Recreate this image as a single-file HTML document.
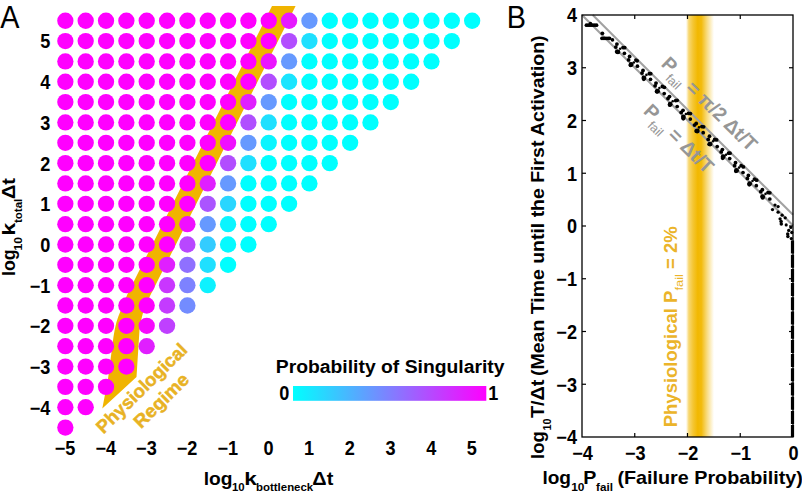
<!DOCTYPE html>
<html><head><meta charset="utf-8"><style>
html,body{margin:0;padding:0;background:#fff;}
svg{display:block;}
text{font-family:"Liberation Sans",sans-serif;}
</style></head><body>
<svg width="802" height="492" viewBox="0 0 802 492">
<defs>
<linearGradient id="cb" x1="0" x2="1" y1="0" y2="0"><stop offset="0" stop-color="#00ffff"/><stop offset="1" stop-color="#ff00ff"/></linearGradient>
<linearGradient id="ob" x1="686" x2="714" y1="0" y2="0" gradientUnits="userSpaceOnUse">
<stop offset="0" stop-color="#f2b800" stop-opacity="0"/>
<stop offset="0.1" stop-color="#f2b800" stop-opacity="0.55"/>
<stop offset="0.25" stop-color="#f2b800" stop-opacity="0.8"/>
<stop offset="0.42" stop-color="#f2b800" stop-opacity="1"/>
<stop offset="0.55" stop-color="#f2b800" stop-opacity="0.95"/>
<stop offset="0.75" stop-color="#f2b800" stop-opacity="0.5"/>
<stop offset="1" stop-color="#f2b800" stop-opacity="0"/>
</linearGradient>
</defs>

<g transform="translate(0.2,27.6) scale(0.93,1)"><text x="0" y="0" font-size="31" fill="#000">A</text></g>
<path d="M272,6 L295.6,6 L150,296 Q141.5,312 139.5,330 L136.5,377 L102.3,408.5 L108,379 L112.3,346 Q114.5,326 118.5,316 L127.5,294 Z" fill="#f0b400"/>
<circle cx="65.35" cy="20.75" r="8.15" fill="rgb(255,0,255)"/>
<circle cx="85.69" cy="20.75" r="8.15" fill="rgb(255,0,255)"/>
<circle cx="106.03" cy="20.75" r="8.15" fill="rgb(255,0,255)"/>
<circle cx="126.37" cy="20.75" r="8.15" fill="rgb(255,0,255)"/>
<circle cx="146.71" cy="20.75" r="8.15" fill="rgb(255,0,255)"/>
<circle cx="167.05" cy="20.75" r="8.15" fill="rgb(255,0,255)"/>
<circle cx="187.39" cy="20.75" r="8.15" fill="rgb(255,0,255)"/>
<circle cx="207.73" cy="20.75" r="8.15" fill="rgb(255,0,255)"/>
<circle cx="228.07" cy="20.75" r="8.15" fill="rgb(255,0,255)"/>
<circle cx="248.41" cy="20.75" r="8.15" fill="rgb(255,0,255)"/>
<circle cx="268.75" cy="20.75" r="8.15" fill="rgb(255,0,255)"/>
<circle cx="289.09" cy="20.75" r="8.15" fill="rgb(230,25,255)"/>
<circle cx="309.43" cy="20.75" r="8.15" fill="rgb(102,153,255)"/>
<circle cx="329.77" cy="20.75" r="8.15" fill="rgb(0,255,255)"/>
<circle cx="350.11" cy="20.75" r="8.15" fill="rgb(0,255,255)"/>
<circle cx="370.45" cy="20.75" r="8.15" fill="rgb(0,255,255)"/>
<circle cx="390.79" cy="20.75" r="8.15" fill="rgb(0,255,255)"/>
<circle cx="411.13" cy="20.75" r="8.15" fill="rgb(0,255,255)"/>
<circle cx="431.47" cy="20.75" r="8.15" fill="rgb(0,255,255)"/>
<circle cx="451.81" cy="20.75" r="8.15" fill="rgb(0,255,255)"/>
<circle cx="472.15" cy="20.75" r="8.15" fill="rgb(0,255,255)"/>
<circle cx="65.35" cy="41.09" r="8.15" fill="rgb(255,0,255)"/>
<circle cx="85.69" cy="41.09" r="8.15" fill="rgb(255,0,255)"/>
<circle cx="106.03" cy="41.09" r="8.15" fill="rgb(255,0,255)"/>
<circle cx="126.37" cy="41.09" r="8.15" fill="rgb(255,0,255)"/>
<circle cx="146.71" cy="41.09" r="8.15" fill="rgb(255,0,255)"/>
<circle cx="167.05" cy="41.09" r="8.15" fill="rgb(255,0,255)"/>
<circle cx="187.39" cy="41.09" r="8.15" fill="rgb(255,0,255)"/>
<circle cx="207.73" cy="41.09" r="8.15" fill="rgb(255,0,255)"/>
<circle cx="228.07" cy="41.09" r="8.15" fill="rgb(255,0,255)"/>
<circle cx="248.41" cy="41.09" r="8.15" fill="rgb(255,0,255)"/>
<circle cx="268.75" cy="41.09" r="8.15" fill="rgb(255,0,255)"/>
<circle cx="289.09" cy="41.09" r="8.15" fill="rgb(178,77,255)"/>
<circle cx="309.43" cy="41.09" r="8.15" fill="rgb(31,224,255)"/>
<circle cx="329.77" cy="41.09" r="8.15" fill="rgb(0,255,255)"/>
<circle cx="350.11" cy="41.09" r="8.15" fill="rgb(0,255,255)"/>
<circle cx="370.45" cy="41.09" r="8.15" fill="rgb(0,255,255)"/>
<circle cx="390.79" cy="41.09" r="8.15" fill="rgb(0,255,255)"/>
<circle cx="411.13" cy="41.09" r="8.15" fill="rgb(0,255,255)"/>
<circle cx="431.47" cy="41.09" r="8.15" fill="rgb(0,255,255)"/>
<circle cx="451.81" cy="41.09" r="8.15" fill="rgb(0,255,255)"/>
<circle cx="65.35" cy="61.43" r="8.15" fill="rgb(255,0,255)"/>
<circle cx="85.69" cy="61.43" r="8.15" fill="rgb(255,0,255)"/>
<circle cx="106.03" cy="61.43" r="8.15" fill="rgb(255,0,255)"/>
<circle cx="126.37" cy="61.43" r="8.15" fill="rgb(255,0,255)"/>
<circle cx="146.71" cy="61.43" r="8.15" fill="rgb(255,0,255)"/>
<circle cx="167.05" cy="61.43" r="8.15" fill="rgb(255,0,255)"/>
<circle cx="187.39" cy="61.43" r="8.15" fill="rgb(255,0,255)"/>
<circle cx="207.73" cy="61.43" r="8.15" fill="rgb(255,0,255)"/>
<circle cx="228.07" cy="61.43" r="8.15" fill="rgb(255,0,255)"/>
<circle cx="248.41" cy="61.43" r="8.15" fill="rgb(255,0,255)"/>
<circle cx="268.75" cy="61.43" r="8.15" fill="rgb(235,20,255)"/>
<circle cx="289.09" cy="61.43" r="8.15" fill="rgb(102,153,255)"/>
<circle cx="309.43" cy="61.43" r="8.15" fill="rgb(0,255,255)"/>
<circle cx="329.77" cy="61.43" r="8.15" fill="rgb(0,255,255)"/>
<circle cx="350.11" cy="61.43" r="8.15" fill="rgb(0,255,255)"/>
<circle cx="370.45" cy="61.43" r="8.15" fill="rgb(0,255,255)"/>
<circle cx="390.79" cy="61.43" r="8.15" fill="rgb(0,255,255)"/>
<circle cx="411.13" cy="61.43" r="8.15" fill="rgb(0,255,255)"/>
<circle cx="431.47" cy="61.43" r="8.15" fill="rgb(0,255,255)"/>
<circle cx="65.35" cy="81.77" r="8.15" fill="rgb(255,0,255)"/>
<circle cx="85.69" cy="81.77" r="8.15" fill="rgb(255,0,255)"/>
<circle cx="106.03" cy="81.77" r="8.15" fill="rgb(255,0,255)"/>
<circle cx="126.37" cy="81.77" r="8.15" fill="rgb(255,0,255)"/>
<circle cx="146.71" cy="81.77" r="8.15" fill="rgb(255,0,255)"/>
<circle cx="167.05" cy="81.77" r="8.15" fill="rgb(255,0,255)"/>
<circle cx="187.39" cy="81.77" r="8.15" fill="rgb(255,0,255)"/>
<circle cx="207.73" cy="81.77" r="8.15" fill="rgb(255,0,255)"/>
<circle cx="228.07" cy="81.77" r="8.15" fill="rgb(255,0,255)"/>
<circle cx="248.41" cy="81.77" r="8.15" fill="rgb(255,0,255)"/>
<circle cx="268.75" cy="81.77" r="8.15" fill="rgb(178,77,255)"/>
<circle cx="289.09" cy="81.77" r="8.15" fill="rgb(26,229,255)"/>
<circle cx="309.43" cy="81.77" r="8.15" fill="rgb(0,255,255)"/>
<circle cx="329.77" cy="81.77" r="8.15" fill="rgb(0,255,255)"/>
<circle cx="350.11" cy="81.77" r="8.15" fill="rgb(0,255,255)"/>
<circle cx="370.45" cy="81.77" r="8.15" fill="rgb(0,255,255)"/>
<circle cx="390.79" cy="81.77" r="8.15" fill="rgb(0,255,255)"/>
<circle cx="411.13" cy="81.77" r="8.15" fill="rgb(0,255,255)"/>
<circle cx="65.35" cy="102.11" r="8.15" fill="rgb(255,0,255)"/>
<circle cx="85.69" cy="102.11" r="8.15" fill="rgb(255,0,255)"/>
<circle cx="106.03" cy="102.11" r="8.15" fill="rgb(255,0,255)"/>
<circle cx="126.37" cy="102.11" r="8.15" fill="rgb(255,0,255)"/>
<circle cx="146.71" cy="102.11" r="8.15" fill="rgb(255,0,255)"/>
<circle cx="167.05" cy="102.11" r="8.15" fill="rgb(255,0,255)"/>
<circle cx="187.39" cy="102.11" r="8.15" fill="rgb(255,0,255)"/>
<circle cx="207.73" cy="102.11" r="8.15" fill="rgb(255,0,255)"/>
<circle cx="228.07" cy="102.11" r="8.15" fill="rgb(255,0,255)"/>
<circle cx="248.41" cy="102.11" r="8.15" fill="rgb(224,31,255)"/>
<circle cx="268.75" cy="102.11" r="8.15" fill="rgb(102,153,255)"/>
<circle cx="289.09" cy="102.11" r="8.15" fill="rgb(0,255,255)"/>
<circle cx="309.43" cy="102.11" r="8.15" fill="rgb(0,255,255)"/>
<circle cx="329.77" cy="102.11" r="8.15" fill="rgb(0,255,255)"/>
<circle cx="350.11" cy="102.11" r="8.15" fill="rgb(0,255,255)"/>
<circle cx="370.45" cy="102.11" r="8.15" fill="rgb(0,255,255)"/>
<circle cx="390.79" cy="102.11" r="8.15" fill="rgb(0,255,255)"/>
<circle cx="65.35" cy="122.45" r="8.15" fill="rgb(255,0,255)"/>
<circle cx="85.69" cy="122.45" r="8.15" fill="rgb(255,0,255)"/>
<circle cx="106.03" cy="122.45" r="8.15" fill="rgb(255,0,255)"/>
<circle cx="126.37" cy="122.45" r="8.15" fill="rgb(255,0,255)"/>
<circle cx="146.71" cy="122.45" r="8.15" fill="rgb(255,0,255)"/>
<circle cx="167.05" cy="122.45" r="8.15" fill="rgb(255,0,255)"/>
<circle cx="187.39" cy="122.45" r="8.15" fill="rgb(255,0,255)"/>
<circle cx="207.73" cy="122.45" r="8.15" fill="rgb(255,0,255)"/>
<circle cx="228.07" cy="122.45" r="8.15" fill="rgb(255,0,255)"/>
<circle cx="248.41" cy="122.45" r="8.15" fill="rgb(176,79,255)"/>
<circle cx="268.75" cy="122.45" r="8.15" fill="rgb(31,224,255)"/>
<circle cx="289.09" cy="122.45" r="8.15" fill="rgb(0,255,255)"/>
<circle cx="309.43" cy="122.45" r="8.15" fill="rgb(0,255,255)"/>
<circle cx="329.77" cy="122.45" r="8.15" fill="rgb(0,255,255)"/>
<circle cx="350.11" cy="122.45" r="8.15" fill="rgb(0,255,255)"/>
<circle cx="370.45" cy="122.45" r="8.15" fill="rgb(0,255,255)"/>
<circle cx="65.35" cy="142.79" r="8.15" fill="rgb(255,0,255)"/>
<circle cx="85.69" cy="142.79" r="8.15" fill="rgb(255,0,255)"/>
<circle cx="106.03" cy="142.79" r="8.15" fill="rgb(255,0,255)"/>
<circle cx="126.37" cy="142.79" r="8.15" fill="rgb(255,0,255)"/>
<circle cx="146.71" cy="142.79" r="8.15" fill="rgb(255,0,255)"/>
<circle cx="167.05" cy="142.79" r="8.15" fill="rgb(255,0,255)"/>
<circle cx="187.39" cy="142.79" r="8.15" fill="rgb(255,0,255)"/>
<circle cx="207.73" cy="142.79" r="8.15" fill="rgb(255,0,255)"/>
<circle cx="228.07" cy="142.79" r="8.15" fill="rgb(240,15,255)"/>
<circle cx="248.41" cy="142.79" r="8.15" fill="rgb(102,153,255)"/>
<circle cx="268.75" cy="142.79" r="8.15" fill="rgb(10,245,255)"/>
<circle cx="289.09" cy="142.79" r="8.15" fill="rgb(0,255,255)"/>
<circle cx="309.43" cy="142.79" r="8.15" fill="rgb(0,255,255)"/>
<circle cx="329.77" cy="142.79" r="8.15" fill="rgb(0,255,255)"/>
<circle cx="350.11" cy="142.79" r="8.15" fill="rgb(0,255,255)"/>
<circle cx="65.35" cy="163.13" r="8.15" fill="rgb(255,0,255)"/>
<circle cx="85.69" cy="163.13" r="8.15" fill="rgb(255,0,255)"/>
<circle cx="106.03" cy="163.13" r="8.15" fill="rgb(255,0,255)"/>
<circle cx="126.37" cy="163.13" r="8.15" fill="rgb(255,0,255)"/>
<circle cx="146.71" cy="163.13" r="8.15" fill="rgb(255,0,255)"/>
<circle cx="167.05" cy="163.13" r="8.15" fill="rgb(255,0,255)"/>
<circle cx="187.39" cy="163.13" r="8.15" fill="rgb(255,0,255)"/>
<circle cx="207.73" cy="163.13" r="8.15" fill="rgb(255,0,255)"/>
<circle cx="228.07" cy="163.13" r="8.15" fill="rgb(178,77,255)"/>
<circle cx="248.41" cy="163.13" r="8.15" fill="rgb(31,224,255)"/>
<circle cx="268.75" cy="163.13" r="8.15" fill="rgb(0,255,255)"/>
<circle cx="289.09" cy="163.13" r="8.15" fill="rgb(0,255,255)"/>
<circle cx="309.43" cy="163.13" r="8.15" fill="rgb(0,255,255)"/>
<circle cx="329.77" cy="163.13" r="8.15" fill="rgb(0,255,255)"/>
<circle cx="65.35" cy="183.47" r="8.15" fill="rgb(255,0,255)"/>
<circle cx="85.69" cy="183.47" r="8.15" fill="rgb(255,0,255)"/>
<circle cx="106.03" cy="183.47" r="8.15" fill="rgb(255,0,255)"/>
<circle cx="126.37" cy="183.47" r="8.15" fill="rgb(255,0,255)"/>
<circle cx="146.71" cy="183.47" r="8.15" fill="rgb(255,0,255)"/>
<circle cx="167.05" cy="183.47" r="8.15" fill="rgb(255,0,255)"/>
<circle cx="187.39" cy="183.47" r="8.15" fill="rgb(255,0,255)"/>
<circle cx="207.73" cy="183.47" r="8.15" fill="rgb(224,31,255)"/>
<circle cx="228.07" cy="183.47" r="8.15" fill="rgb(102,153,255)"/>
<circle cx="248.41" cy="183.47" r="8.15" fill="rgb(0,255,255)"/>
<circle cx="268.75" cy="183.47" r="8.15" fill="rgb(0,255,255)"/>
<circle cx="289.09" cy="183.47" r="8.15" fill="rgb(0,255,255)"/>
<circle cx="309.43" cy="183.47" r="8.15" fill="rgb(0,255,255)"/>
<circle cx="65.35" cy="203.81" r="8.15" fill="rgb(255,0,255)"/>
<circle cx="85.69" cy="203.81" r="8.15" fill="rgb(255,0,255)"/>
<circle cx="106.03" cy="203.81" r="8.15" fill="rgb(255,0,255)"/>
<circle cx="126.37" cy="203.81" r="8.15" fill="rgb(255,0,255)"/>
<circle cx="146.71" cy="203.81" r="8.15" fill="rgb(255,0,255)"/>
<circle cx="167.05" cy="203.81" r="8.15" fill="rgb(255,0,255)"/>
<circle cx="187.39" cy="203.81" r="8.15" fill="rgb(255,0,255)"/>
<circle cx="207.73" cy="203.81" r="8.15" fill="rgb(171,84,255)"/>
<circle cx="228.07" cy="203.81" r="8.15" fill="rgb(41,214,255)"/>
<circle cx="248.41" cy="203.81" r="8.15" fill="rgb(0,255,255)"/>
<circle cx="268.75" cy="203.81" r="8.15" fill="rgb(0,255,255)"/>
<circle cx="289.09" cy="203.81" r="8.15" fill="rgb(0,255,255)"/>
<circle cx="65.35" cy="224.15" r="8.15" fill="rgb(255,0,255)"/>
<circle cx="85.69" cy="224.15" r="8.15" fill="rgb(255,0,255)"/>
<circle cx="106.03" cy="224.15" r="8.15" fill="rgb(255,0,255)"/>
<circle cx="126.37" cy="224.15" r="8.15" fill="rgb(255,0,255)"/>
<circle cx="146.71" cy="224.15" r="8.15" fill="rgb(255,0,255)"/>
<circle cx="167.05" cy="224.15" r="8.15" fill="rgb(255,0,255)"/>
<circle cx="187.39" cy="224.15" r="8.15" fill="rgb(240,15,255)"/>
<circle cx="207.73" cy="224.15" r="8.15" fill="rgb(102,153,255)"/>
<circle cx="228.07" cy="224.15" r="8.15" fill="rgb(10,245,255)"/>
<circle cx="248.41" cy="224.15" r="8.15" fill="rgb(0,255,255)"/>
<circle cx="268.75" cy="224.15" r="8.15" fill="rgb(0,255,255)"/>
<circle cx="65.35" cy="244.49" r="8.15" fill="rgb(255,0,255)"/>
<circle cx="85.69" cy="244.49" r="8.15" fill="rgb(255,0,255)"/>
<circle cx="106.03" cy="244.49" r="8.15" fill="rgb(255,0,255)"/>
<circle cx="126.37" cy="244.49" r="8.15" fill="rgb(255,0,255)"/>
<circle cx="146.71" cy="244.49" r="8.15" fill="rgb(255,0,255)"/>
<circle cx="167.05" cy="244.49" r="8.15" fill="rgb(255,0,255)"/>
<circle cx="187.39" cy="244.49" r="8.15" fill="rgb(184,71,255)"/>
<circle cx="207.73" cy="244.49" r="8.15" fill="rgb(51,204,255)"/>
<circle cx="228.07" cy="244.49" r="8.15" fill="rgb(5,250,255)"/>
<circle cx="248.41" cy="244.49" r="8.15" fill="rgb(0,255,255)"/>
<circle cx="65.35" cy="264.83" r="8.15" fill="rgb(255,0,255)"/>
<circle cx="85.69" cy="264.83" r="8.15" fill="rgb(255,0,255)"/>
<circle cx="106.03" cy="264.83" r="8.15" fill="rgb(255,0,255)"/>
<circle cx="126.37" cy="264.83" r="8.15" fill="rgb(255,0,255)"/>
<circle cx="146.71" cy="264.83" r="8.15" fill="rgb(255,0,255)"/>
<circle cx="167.05" cy="264.83" r="8.15" fill="rgb(224,31,255)"/>
<circle cx="187.39" cy="264.83" r="8.15" fill="rgb(143,112,255)"/>
<circle cx="207.73" cy="264.83" r="8.15" fill="rgb(31,224,255)"/>
<circle cx="228.07" cy="264.83" r="8.15" fill="rgb(0,255,255)"/>
<circle cx="65.35" cy="285.17" r="8.15" fill="rgb(255,0,255)"/>
<circle cx="85.69" cy="285.17" r="8.15" fill="rgb(255,0,255)"/>
<circle cx="106.03" cy="285.17" r="8.15" fill="rgb(255,0,255)"/>
<circle cx="126.37" cy="285.17" r="8.15" fill="rgb(255,0,255)"/>
<circle cx="146.71" cy="285.17" r="8.15" fill="rgb(255,0,255)"/>
<circle cx="167.05" cy="285.17" r="8.15" fill="rgb(201,54,255)"/>
<circle cx="187.39" cy="285.17" r="8.15" fill="rgb(125,130,255)"/>
<circle cx="207.73" cy="285.17" r="8.15" fill="rgb(13,242,255)"/>
<circle cx="65.35" cy="305.51" r="8.15" fill="rgb(255,0,255)"/>
<circle cx="85.69" cy="305.51" r="8.15" fill="rgb(255,0,255)"/>
<circle cx="106.03" cy="305.51" r="8.15" fill="rgb(255,0,255)"/>
<circle cx="126.37" cy="305.51" r="8.15" fill="rgb(255,0,255)"/>
<circle cx="146.71" cy="305.51" r="8.15" fill="rgb(255,0,255)"/>
<circle cx="167.05" cy="305.51" r="8.15" fill="rgb(196,59,255)"/>
<circle cx="187.39" cy="305.51" r="8.15" fill="rgb(115,140,255)"/>
<circle cx="65.35" cy="325.85" r="8.15" fill="rgb(255,0,255)"/>
<circle cx="85.69" cy="325.85" r="8.15" fill="rgb(255,0,255)"/>
<circle cx="106.03" cy="325.85" r="8.15" fill="rgb(255,0,255)"/>
<circle cx="126.37" cy="325.85" r="8.15" fill="rgb(255,0,255)"/>
<circle cx="146.71" cy="325.85" r="8.15" fill="rgb(247,8,255)"/>
<circle cx="167.05" cy="325.85" r="8.15" fill="rgb(191,64,255)"/>
<circle cx="65.35" cy="346.19" r="8.15" fill="rgb(255,0,255)"/>
<circle cx="85.69" cy="346.19" r="8.15" fill="rgb(255,0,255)"/>
<circle cx="106.03" cy="346.19" r="8.15" fill="rgb(255,0,255)"/>
<circle cx="126.37" cy="346.19" r="8.15" fill="rgb(255,0,255)"/>
<circle cx="146.71" cy="346.19" r="8.15" fill="rgb(224,31,255)"/>
<circle cx="65.35" cy="366.53" r="8.15" fill="rgb(255,0,255)"/>
<circle cx="85.69" cy="366.53" r="8.15" fill="rgb(255,0,255)"/>
<circle cx="106.03" cy="366.53" r="8.15" fill="rgb(255,0,255)"/>
<circle cx="126.37" cy="366.53" r="8.15" fill="rgb(255,0,255)"/>
<circle cx="65.35" cy="386.87" r="8.15" fill="rgb(255,0,255)"/>
<circle cx="85.69" cy="386.87" r="8.15" fill="rgb(255,0,255)"/>
<circle cx="106.03" cy="386.87" r="8.15" fill="rgb(255,0,255)"/>
<circle cx="65.35" cy="407.21" r="8.15" fill="rgb(255,0,255)"/>
<circle cx="85.69" cy="407.21" r="8.15" fill="rgb(255,0,255)"/>
<circle cx="65.35" cy="427.55" r="8.15" fill="rgb(255,0,255)"/>
<g transform="translate(50.30,48.49) scale(0.93,1)"><text x="0" y="0" font-size="19.5" font-weight="bold" text-anchor="end">5</text></g>
<g transform="translate(50.30,89.17) scale(0.93,1)"><text x="0" y="0" font-size="19.5" font-weight="bold" text-anchor="end">4</text></g>
<g transform="translate(50.30,129.85) scale(0.93,1)"><text x="0" y="0" font-size="19.5" font-weight="bold" text-anchor="end">3</text></g>
<g transform="translate(50.30,170.53) scale(0.93,1)"><text x="0" y="0" font-size="19.5" font-weight="bold" text-anchor="end">2</text></g>
<g transform="translate(50.30,211.21) scale(0.93,1)"><text x="0" y="0" font-size="19.5" font-weight="bold" text-anchor="end">1</text></g>
<g transform="translate(50.30,251.89) scale(0.93,1)"><text x="0" y="0" font-size="19.5" font-weight="bold" text-anchor="end">0</text></g>
<g transform="translate(50.30,292.57) scale(0.93,1)"><text x="0" y="0" font-size="19.5" font-weight="bold" text-anchor="end">−1</text></g>
<g transform="translate(50.30,333.25) scale(0.93,1)"><text x="0" y="0" font-size="19.5" font-weight="bold" text-anchor="end">−2</text></g>
<g transform="translate(50.30,373.93) scale(0.93,1)"><text x="0" y="0" font-size="19.5" font-weight="bold" text-anchor="end">−3</text></g>
<g transform="translate(50.30,414.61) scale(0.93,1)"><text x="0" y="0" font-size="19.5" font-weight="bold" text-anchor="end">−4</text></g>
<g transform="translate(65.05,454.60) scale(0.93,1)"><text x="0" y="0" font-size="19.5" font-weight="bold" text-anchor="middle">−5</text></g>
<g transform="translate(105.73,454.60) scale(0.93,1)"><text x="0" y="0" font-size="19.5" font-weight="bold" text-anchor="middle">−4</text></g>
<g transform="translate(146.41,454.60) scale(0.93,1)"><text x="0" y="0" font-size="19.5" font-weight="bold" text-anchor="middle">−3</text></g>
<g transform="translate(187.09,454.60) scale(0.93,1)"><text x="0" y="0" font-size="19.5" font-weight="bold" text-anchor="middle">−2</text></g>
<g transform="translate(227.77,454.60) scale(0.93,1)"><text x="0" y="0" font-size="19.5" font-weight="bold" text-anchor="middle">−1</text></g>
<g transform="translate(268.45,454.60) scale(0.93,1)"><text x="0" y="0" font-size="19.5" font-weight="bold" text-anchor="middle">0</text></g>
<g transform="translate(309.13,454.60) scale(0.93,1)"><text x="0" y="0" font-size="19.5" font-weight="bold" text-anchor="middle">1</text></g>
<g transform="translate(349.81,454.60) scale(0.93,1)"><text x="0" y="0" font-size="19.5" font-weight="bold" text-anchor="middle">2</text></g>
<g transform="translate(390.49,454.60) scale(0.93,1)"><text x="0" y="0" font-size="19.5" font-weight="bold" text-anchor="middle">3</text></g>
<g transform="translate(431.17,454.60) scale(0.93,1)"><text x="0" y="0" font-size="19.5" font-weight="bold" text-anchor="middle">4</text></g>
<g transform="translate(471.85,454.60) scale(0.93,1)"><text x="0" y="0" font-size="19.5" font-weight="bold" text-anchor="middle">5</text></g>
<text x="203.7" y="484.6" font-size="18.5" font-weight="bold" textLength="28.8" lengthAdjust="spacingAndGlyphs">log</text>
<text x="232.0" y="491.3" font-size="11" font-weight="bold" textLength="12.7" lengthAdjust="spacingAndGlyphs">10</text>
<text x="244.3" y="484.6" font-size="18.5" font-weight="bold" textLength="12.6" lengthAdjust="spacingAndGlyphs">k</text>
<text x="256.0" y="491.3" font-size="11" font-weight="bold" textLength="57.2" lengthAdjust="spacingAndGlyphs">bottleneck</text>
<text x="312.3" y="484.6" font-size="18.5" font-weight="bold" textLength="21.0" lengthAdjust="spacingAndGlyphs">Δt</text>
<g transform="translate(15.2,274.9) rotate(-90)"><text x="-1.1" y="0" font-size="18.5" font-weight="bold" textLength="26.6" lengthAdjust="spacingAndGlyphs">log</text><text x="24.3" y="7.1" font-size="11" font-weight="bold" textLength="13.5" lengthAdjust="spacingAndGlyphs">10</text><text x="39.2" y="0" font-size="18.5" font-weight="bold" textLength="13.1" lengthAdjust="spacingAndGlyphs">k</text><text x="51.8" y="7.1" font-size="11" font-weight="bold" textLength="24.4" lengthAdjust="spacingAndGlyphs">total</text><text x="75.8" y="0" font-size="18.5" font-weight="bold" textLength="21.1" lengthAdjust="spacingAndGlyphs">Δt</text></g>
<g transform="translate(103.5,434.5) rotate(-44.5)" fill="#e8b224" stroke="#e8b224" stroke-width="0.45" font-size="18.5" font-weight="bold"><text x="0" y="0" textLength="119" lengthAdjust="spacingAndGlyphs">Physiological</text><text x="30.5" y="22.5" textLength="69" lengthAdjust="spacingAndGlyphs">Regime</text></g>
<text x="275.8" y="373.4" font-size="18" font-weight="bold" textLength="228.7" lengthAdjust="spacingAndGlyphs">Probability of Singularity</text>
<rect x="293" y="386" width="193.3" height="14.8" fill="url(#cb)"/>
<g transform="translate(284.40,400.00) scale(0.93,1)"><text x="0" y="0" font-size="19.5" font-weight="bold" text-anchor="middle">0</text></g>
<g transform="translate(493.20,400.00) scale(0.93,1)"><text x="0" y="0" font-size="19.5" font-weight="bold" text-anchor="middle">1</text></g>
<g transform="translate(506.8,27.6) scale(0.93,1)"><text x="0" y="0" font-size="31" fill="#000">B</text></g>
<rect x="686" y="15" width="28" height="422" fill="url(#ob)"/>
<line x1="582.0" y1="15.0" x2="793.0" y2="225.4" stroke="#a2a2a2" stroke-width="2.1"/>
<line x1="592.7453235133405" y1="15.0" x2="793.0" y2="214.85467648665946" stroke="#a2a2a2" stroke-width="2.1"/>
<circle cx="586.5" cy="25.2" r="1.92" fill="#000"/>
<circle cx="588.5" cy="25.2" r="1.92" fill="#000"/>
<circle cx="590.5" cy="25.2" r="1.92" fill="#000"/>
<circle cx="592.5" cy="25.2" r="1.92" fill="#000"/>
<circle cx="594.5" cy="25.2" r="1.92" fill="#000"/>
<circle cx="596.5" cy="25.2" r="1.92" fill="#000"/>
<circle cx="590.5" cy="23.3" r="1.66" fill="#000"/>
<circle cx="602.4" cy="33.3" r="1.92" fill="#000"/>
<circle cx="602.0" cy="38.3" r="1.92" fill="#000"/>
<circle cx="604.0" cy="38.3" r="1.92" fill="#000"/>
<circle cx="606.0" cy="38.3" r="1.92" fill="#000"/>
<circle cx="608.0" cy="38.3" r="1.92" fill="#000"/>
<circle cx="609.5" cy="38.3" r="1.92" fill="#000"/>
<circle cx="612.5" cy="39.9" r="1.79" fill="#000"/>
<circle cx="616.9" cy="44.1" r="1.92" fill="#000"/>
<circle cx="615.8" cy="47.1" r="1.92" fill="#000"/>
<circle cx="617.9" cy="51.9" r="2.43" fill="#000"/>
<circle cx="616.8" cy="51.8" r="2.05" fill="#000"/>
<circle cx="623.0" cy="47.6" r="1.92" fill="#000"/>
<circle cx="624.7" cy="47.7" r="1.92" fill="#000"/>
<circle cx="624.4" cy="53.3" r="1.86" fill="#000"/>
<circle cx="620.2" cy="48.7" r="1.28" fill="#000"/>
<circle cx="629.6" cy="56.4" r="1.92" fill="#000"/>
<circle cx="628.6" cy="59.9" r="1.92" fill="#000"/>
<circle cx="631.1" cy="64.5" r="2.43" fill="#000"/>
<circle cx="630.6" cy="65.3" r="2.05" fill="#000"/>
<circle cx="635.9" cy="60.1" r="1.92" fill="#000"/>
<circle cx="637.2" cy="60.8" r="1.92" fill="#000"/>
<circle cx="637.4" cy="66.2" r="1.86" fill="#000"/>
<circle cx="633.8" cy="62.5" r="1.28" fill="#000"/>
<circle cx="643.0" cy="70.4" r="1.92" fill="#000"/>
<circle cx="642.0" cy="73.1" r="1.92" fill="#000"/>
<circle cx="643.9" cy="77.9" r="2.43" fill="#000"/>
<circle cx="643.8" cy="79.1" r="2.05" fill="#000"/>
<circle cx="649.3" cy="73.7" r="1.92" fill="#000"/>
<circle cx="650.7" cy="73.7" r="1.92" fill="#000"/>
<circle cx="650.5" cy="79.3" r="1.86" fill="#000"/>
<circle cx="646.4" cy="74.9" r="1.28" fill="#000"/>
<circle cx="656.0" cy="83.1" r="1.92" fill="#000"/>
<circle cx="655.1" cy="85.8" r="1.92" fill="#000"/>
<circle cx="657.6" cy="91.2" r="2.43" fill="#000"/>
<circle cx="656.7" cy="91.6" r="2.05" fill="#000"/>
<circle cx="662.4" cy="86.5" r="1.92" fill="#000"/>
<circle cx="664.4" cy="87.3" r="1.92" fill="#000"/>
<circle cx="664.2" cy="93.6" r="1.86" fill="#000"/>
<circle cx="659.4" cy="88.0" r="1.28" fill="#000"/>
<circle cx="669.5" cy="96.6" r="1.92" fill="#000"/>
<circle cx="668.0" cy="98.5" r="1.92" fill="#000"/>
<circle cx="670.2" cy="104.3" r="2.43" fill="#000"/>
<circle cx="669.8" cy="105.0" r="2.05" fill="#000"/>
<circle cx="675.7" cy="100.6" r="1.92" fill="#000"/>
<circle cx="677.1" cy="100.3" r="1.92" fill="#000"/>
<circle cx="677.2" cy="106.5" r="1.86" fill="#000"/>
<circle cx="672.7" cy="101.3" r="1.28" fill="#000"/>
<circle cx="683.0" cy="110.3" r="1.92" fill="#000"/>
<circle cx="681.2" cy="112.5" r="1.92" fill="#000"/>
<circle cx="683.4" cy="116.9" r="2.43" fill="#000"/>
<circle cx="683.3" cy="118.6" r="2.05" fill="#000"/>
<circle cx="688.5" cy="113.3" r="1.92" fill="#000"/>
<circle cx="690.4" cy="113.6" r="1.92" fill="#000"/>
<circle cx="690.3" cy="119.1" r="1.86" fill="#000"/>
<circle cx="685.9" cy="114.0" r="1.28" fill="#000"/>
<circle cx="696.2" cy="123.5" r="1.92" fill="#000"/>
<circle cx="694.5" cy="125.1" r="1.92" fill="#000"/>
<circle cx="697.3" cy="131.0" r="2.43" fill="#000"/>
<circle cx="696.3" cy="131.1" r="2.05" fill="#000"/>
<circle cx="701.9" cy="126.6" r="1.92" fill="#000"/>
<circle cx="703.6" cy="126.8" r="1.92" fill="#000"/>
<circle cx="703.2" cy="132.7" r="1.86" fill="#000"/>
<circle cx="699.0" cy="127.4" r="1.28" fill="#000"/>
<circle cx="709.5" cy="136.2" r="1.92" fill="#000"/>
<circle cx="708.2" cy="139.4" r="1.92" fill="#000"/>
<circle cx="710.2" cy="144.1" r="2.43" fill="#000"/>
<circle cx="709.3" cy="144.2" r="2.05" fill="#000"/>
<circle cx="714.7" cy="139.5" r="1.92" fill="#000"/>
<circle cx="716.6" cy="139.9" r="1.92" fill="#000"/>
<circle cx="717.2" cy="146.6" r="1.86" fill="#000"/>
<circle cx="713.0" cy="141.3" r="1.28" fill="#000"/>
<circle cx="722.4" cy="149.6" r="1.92" fill="#000"/>
<circle cx="721.2" cy="151.9" r="1.92" fill="#000"/>
<circle cx="723.2" cy="156.6" r="2.43" fill="#000"/>
<circle cx="722.7" cy="158.1" r="2.05" fill="#000"/>
<circle cx="728.6" cy="153.2" r="1.92" fill="#000"/>
<circle cx="730.0" cy="153.2" r="1.92" fill="#000"/>
<circle cx="729.7" cy="158.6" r="1.86" fill="#000"/>
<circle cx="726.0" cy="154.7" r="1.28" fill="#000"/>
<circle cx="735.5" cy="162.7" r="1.92" fill="#000"/>
<circle cx="734.6" cy="165.7" r="1.92" fill="#000"/>
<circle cx="736.6" cy="170.5" r="2.43" fill="#000"/>
<circle cx="735.9" cy="171.1" r="2.05" fill="#000"/>
<circle cx="741.2" cy="165.7" r="1.92" fill="#000"/>
<circle cx="743.4" cy="166.9" r="1.92" fill="#000"/>
<circle cx="743.0" cy="172.5" r="1.86" fill="#000"/>
<circle cx="739.1" cy="167.6" r="1.28" fill="#000"/>
<circle cx="748.4" cy="175.4" r="1.92" fill="#000"/>
<circle cx="747.4" cy="178.4" r="1.92" fill="#000"/>
<circle cx="749.7" cy="183.6" r="2.43" fill="#000"/>
<circle cx="749.3" cy="184.6" r="2.05" fill="#000"/>
<circle cx="754.5" cy="179.1" r="1.92" fill="#000"/>
<circle cx="756.6" cy="180.2" r="1.92" fill="#000"/>
<circle cx="756.3" cy="185.7" r="1.86" fill="#000"/>
<circle cx="752.5" cy="181.0" r="1.28" fill="#000"/>
<circle cx="762.4" cy="189.7" r="1.92" fill="#000"/>
<circle cx="760.8" cy="191.7" r="1.92" fill="#000"/>
<circle cx="762.6" cy="196.6" r="2.43" fill="#000"/>
<circle cx="762.7" cy="197.7" r="2.05" fill="#000"/>
<circle cx="768.0" cy="192.6" r="1.92" fill="#000"/>
<circle cx="769.8" cy="192.8" r="1.92" fill="#000"/>
<circle cx="769.8" cy="199.0" r="1.86" fill="#000"/>
<circle cx="765.5" cy="193.9" r="1.28" fill="#000"/>
<circle cx="775.0" cy="205.1" r="1.65" fill="#000"/>
<circle cx="778.1" cy="206.6" r="1.65" fill="#000"/>
<circle cx="772.5" cy="209.6" r="1.65" fill="#000"/>
<circle cx="778.1" cy="212.2" r="1.65" fill="#000"/>
<circle cx="782.1" cy="215.2" r="1.65" fill="#000"/>
<circle cx="785.2" cy="217.8" r="1.65" fill="#000"/>
<circle cx="780.1" cy="218.8" r="1.65" fill="#000"/>
<circle cx="781.1" cy="221.5" r="1.76" fill="#000"/>
<circle cx="781.3" cy="224.0" r="1.76" fill="#000"/>
<circle cx="786.2" cy="224.9" r="1.54" fill="#000"/>
<circle cx="790.8" cy="227.4" r="1.54" fill="#000"/>
<circle cx="788.7" cy="230.4" r="1.65" fill="#000"/>
<circle cx="787.7" cy="234.0" r="1.76" fill="#000"/>
<circle cx="787.9" cy="236.5" r="1.76" fill="#000"/>
<circle cx="791.8" cy="232.5" r="1.65" fill="#000"/>
<circle cx="791.3" cy="238.6" r="1.65" fill="#000"/>
<line x1="792.5" y1="240.5" x2="792.5" y2="437" stroke="#000" stroke-width="3.2" stroke-dasharray="13 1.2"/>
<rect x="582" y="15" width="211" height="422" fill="none" stroke="#000" stroke-width="1.3"/>
<line x1="634.75" y1="437" x2="634.75" y2="433" stroke="#000" stroke-width="1.2"/>
<line x1="634.75" y1="15" x2="634.75" y2="19" stroke="#000" stroke-width="1.2"/>
<line x1="687.5" y1="437" x2="687.5" y2="433" stroke="#000" stroke-width="1.2"/>
<line x1="687.5" y1="15" x2="687.5" y2="19" stroke="#000" stroke-width="1.2"/>
<line x1="740.25" y1="437" x2="740.25" y2="433" stroke="#000" stroke-width="1.2"/>
<line x1="740.25" y1="15" x2="740.25" y2="19" stroke="#000" stroke-width="1.2"/>
<line x1="582" y1="384.25" x2="586" y2="384.25" stroke="#000" stroke-width="1.2"/>
<line x1="793" y1="384.25" x2="789" y2="384.25" stroke="#000" stroke-width="1.2"/>
<line x1="582" y1="331.5" x2="586" y2="331.5" stroke="#000" stroke-width="1.2"/>
<line x1="793" y1="331.5" x2="789" y2="331.5" stroke="#000" stroke-width="1.2"/>
<line x1="582" y1="278.75" x2="586" y2="278.75" stroke="#000" stroke-width="1.2"/>
<line x1="793" y1="278.75" x2="789" y2="278.75" stroke="#000" stroke-width="1.2"/>
<line x1="582" y1="226.0" x2="586" y2="226.0" stroke="#000" stroke-width="1.2"/>
<line x1="793" y1="226.0" x2="789" y2="226.0" stroke="#000" stroke-width="1.2"/>
<line x1="582" y1="173.25" x2="586" y2="173.25" stroke="#000" stroke-width="1.2"/>
<line x1="793" y1="173.25" x2="789" y2="173.25" stroke="#000" stroke-width="1.2"/>
<line x1="582" y1="120.5" x2="586" y2="120.5" stroke="#000" stroke-width="1.2"/>
<line x1="793" y1="120.5" x2="789" y2="120.5" stroke="#000" stroke-width="1.2"/>
<line x1="582" y1="67.75" x2="586" y2="67.75" stroke="#000" stroke-width="1.2"/>
<line x1="793" y1="67.75" x2="789" y2="67.75" stroke="#000" stroke-width="1.2"/>
<g transform="translate(577.00,444.30) scale(0.93,1)"><text x="0" y="0" font-size="19.5" font-weight="bold" text-anchor="end">−4</text></g>
<g transform="translate(577.00,391.55) scale(0.93,1)"><text x="0" y="0" font-size="19.5" font-weight="bold" text-anchor="end">−3</text></g>
<g transform="translate(577.00,338.80) scale(0.93,1)"><text x="0" y="0" font-size="19.5" font-weight="bold" text-anchor="end">−2</text></g>
<g transform="translate(577.00,286.05) scale(0.93,1)"><text x="0" y="0" font-size="19.5" font-weight="bold" text-anchor="end">−1</text></g>
<g transform="translate(577.00,233.30) scale(0.93,1)"><text x="0" y="0" font-size="19.5" font-weight="bold" text-anchor="end">0</text></g>
<g transform="translate(577.00,180.55) scale(0.93,1)"><text x="0" y="0" font-size="19.5" font-weight="bold" text-anchor="end">1</text></g>
<g transform="translate(577.00,127.80) scale(0.93,1)"><text x="0" y="0" font-size="19.5" font-weight="bold" text-anchor="end">2</text></g>
<g transform="translate(577.00,75.05) scale(0.93,1)"><text x="0" y="0" font-size="19.5" font-weight="bold" text-anchor="end">3</text></g>
<g transform="translate(577.00,22.30) scale(0.93,1)"><text x="0" y="0" font-size="19.5" font-weight="bold" text-anchor="end">4</text></g>
<g transform="translate(582.60,460.30) scale(0.93,1)"><text x="0" y="0" font-size="19.5" font-weight="bold" text-anchor="middle">−4</text></g>
<g transform="translate(635.35,460.30) scale(0.93,1)"><text x="0" y="0" font-size="19.5" font-weight="bold" text-anchor="middle">−3</text></g>
<g transform="translate(688.10,460.30) scale(0.93,1)"><text x="0" y="0" font-size="19.5" font-weight="bold" text-anchor="middle">−2</text></g>
<g transform="translate(740.85,460.30) scale(0.93,1)"><text x="0" y="0" font-size="19.5" font-weight="bold" text-anchor="middle">−1</text></g>
<g transform="translate(793.60,460.30) scale(0.93,1)"><text x="0" y="0" font-size="19.5" font-weight="bold" text-anchor="middle">0</text></g>
<text x="542.4" y="484.1" font-size="18.5" font-weight="bold" textLength="28.6" lengthAdjust="spacingAndGlyphs">log</text>
<text x="571.2" y="490.8" font-size="11" font-weight="bold" textLength="13.3" lengthAdjust="spacingAndGlyphs">10</text>
<text x="583.3" y="484.1" font-size="18.5" font-weight="bold" textLength="13.1" lengthAdjust="spacingAndGlyphs">P</text>
<text x="596.1" y="490.8" font-size="11" font-weight="bold" textLength="16.8" lengthAdjust="spacingAndGlyphs">fail</text>
<text x="617.4" y="484.1" font-size="18.5" font-weight="bold" textLength="185.5" lengthAdjust="spacingAndGlyphs">(Failure Probability)</text>
<g transform="translate(543.6,457.8) rotate(-90)"><text x="-1.1" y="0" font-size="18.5" font-weight="bold" textLength="27.8" lengthAdjust="spacingAndGlyphs">log</text><text x="27.3" y="6.9" font-size="11" font-weight="bold" textLength="11.9" lengthAdjust="spacingAndGlyphs">10</text><text x="39.7" y="0" font-size="18.5" font-weight="bold" textLength="38.6" lengthAdjust="spacingAndGlyphs">T/Δt</text><text x="81.9" y="0" font-size="18.5" font-weight="bold" textLength="340.5" lengthAdjust="spacingAndGlyphs">(Mean Time until the First Activation)</text></g>
<g transform="translate(660.2,65.1) rotate(44.3)" fill="#969696" font-weight="bold" font-size="19.5"><text x="0" y="0"><tspan>P</tspan><tspan font-size="12.5" font-weight="normal" dy="7">fail</tspan><tspan dy="-7"> = π/2 Δt/T</tspan></text></g>
<g transform="translate(642.4,112.3) rotate(44.3)" fill="#969696" font-weight="bold" font-size="19.5"><text x="0" y="0"><tspan>P</tspan><tspan font-size="12.5" font-weight="normal" dy="7">fail</tspan><tspan dy="-7"> = Δt/T</tspan></text></g>
<g transform="translate(676.8,427.3) rotate(-90)" fill="#ebb42a" font-weight="bold" font-size="18.5"><text x="0" y="0"><tspan>Physiological P</tspan><tspan font-size="11" font-weight="normal" dy="6" textLength="16.4" lengthAdjust="spacingAndGlyphs">fail</tspan><tspan dy="-6"> = 2%</tspan></text></g>
</svg></body></html>
